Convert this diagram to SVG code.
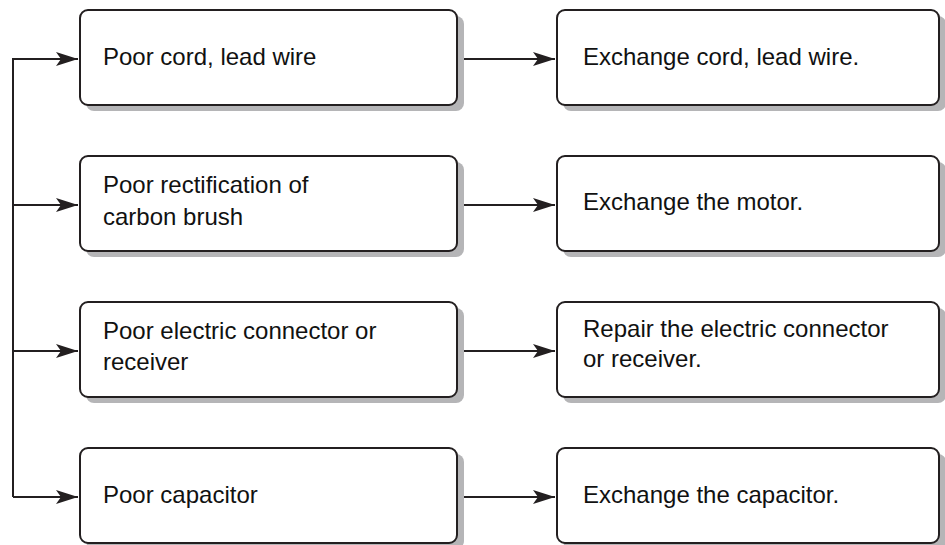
<svg xmlns="http://www.w3.org/2000/svg" width="945" height="545" viewBox="0 0 945 545">
<style>
.shadow{fill:#b5b5b7;}
.box{fill:#fff;stroke:#231f20;stroke-width:2;}
.lbl{font-family:"Liberation Sans",Arial,sans-serif;font-size:24px;fill:#111;}
.con{fill:none;stroke:#231f20;stroke-width:2;}
</style>
<defs>
<marker id="ah" markerUnits="userSpaceOnUse" markerWidth="24" markerHeight="16" refX="22" refY="8" orient="auto">
<path d="M0,1 L22,8 L0,15 L5,8 Z" fill="#231f20"/>
</marker>
</defs>
<rect width="945" height="545" fill="#fff"/>
<g id="connectors">
<path class="con" d="M13,497 V59 H78" marker-end="url(#ah)"/>
<path class="con" d="M13,205 H78" marker-end="url(#ah)"/>
<path class="con" d="M13,351 H78" marker-end="url(#ah)"/>
<path class="con" d="M13,497 H78" marker-end="url(#ah)"/>
<path class="con" d="M458,59 H555" marker-end="url(#ah)"/>
<path class="con" d="M458,205 H555" marker-end="url(#ah)"/>
<path class="con" d="M458,351 H555" marker-end="url(#ah)"/>
<path class="con" d="M458,497 H555" marker-end="url(#ah)"/>
</g>
<g id="c1">
<rect class="shadow" x="86" y="16" width="378" height="95" rx="8"/>
<rect class="box" x="80" y="10" width="377" height="95" rx="8"/>
<text class="lbl" x="103" y="65">Poor cord, lead wire</text>
</g>
<g id="c2">
<rect class="shadow" x="86" y="162" width="378" height="95" rx="8"/>
<rect class="box" x="80" y="156" width="377" height="95" rx="8"/>
<text class="lbl" x="103" y="193">Poor rectification of</text>
<text class="lbl" x="103" y="225">carbon brush</text>
</g>
<g id="c3">
<rect class="shadow" x="86" y="308" width="378" height="95" rx="8"/>
<rect class="box" x="80" y="302" width="377" height="95" rx="8"/>
<text class="lbl" x="103" y="339">Poor electric connector or</text>
<text class="lbl" x="103" y="370">receiver</text>
</g>
<g id="c4">
<rect class="shadow" x="86" y="454" width="378" height="95" rx="8"/>
<rect class="box" x="80" y="448" width="377" height="95" rx="8"/>
<text class="lbl" x="103" y="503">Poor capacitor</text>
</g>
<g id="r1">
<rect class="shadow" x="563" y="16" width="383" height="95" rx="8"/>
<rect class="box" x="557" y="10" width="382" height="95" rx="8"/>
<text class="lbl" x="583" y="65">Exchange cord, lead wire.</text>
</g>
<g id="r2">
<rect class="shadow" x="563" y="162" width="383" height="95" rx="8"/>
<rect class="box" x="557" y="156" width="382" height="95" rx="8"/>
<text class="lbl" x="583" y="210">Exchange the motor.</text>
</g>
<g id="r3">
<rect class="shadow" x="563" y="308" width="383" height="95" rx="8"/>
<rect class="box" x="557" y="302" width="382" height="95" rx="8"/>
<text class="lbl" x="583" y="337">Repair the electric connector</text>
<text class="lbl" x="583" y="367">or receiver.</text>
</g>
<g id="r4">
<rect class="shadow" x="563" y="454" width="383" height="95" rx="8"/>
<rect class="box" x="557" y="448" width="382" height="95" rx="8"/>
<text class="lbl" x="583" y="503">Exchange the capacitor.</text>
</g>
</svg>
